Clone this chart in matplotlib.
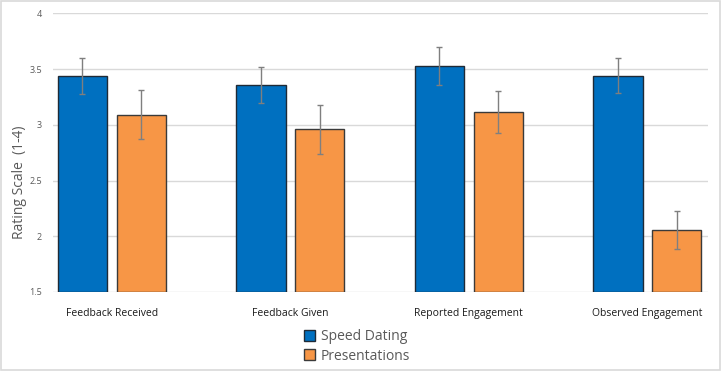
import numpy as np
import matplotlib.pyplot as plt
from matplotlib.patches import Rectangle

# Data
categories = ["Feedback Received", "Feedback Given", "Reported Engagement", "Observed Engagement"]
speed_dating = [3.44, 3.36, 3.53, 3.44]
speed_err = [0.16, 0.16, 0.17, 0.155]
presentations = [3.09, 2.96, 3.115, 2.06]
pres_err = [0.22, 0.22, 0.19, 0.17]
yticks = [1.5, 2, 2.5, 3, 3.5, 4]
ytick_labels = ["1.5", "2", "2.5", "3", "3.5", "4"]

plt.rcParams['font.family'] = ['Open Sans', 'DejaVu Sans']

fig = plt.figure(figsize=(7.21, 3.71), dpi=100)
ax = fig.add_axes([0.0735, 0.213, 0.9085, 0.751])

x = np.arange(len(categories))
w = 0.276
off = 0.165

ax.bar(x - off, np.array(speed_dating) - 1.5, w, bottom=1.5, color='#0070C0',
       edgecolor='#1f2a36', linewidth=1.0, label='Speed Dating', zorder=3)
ax.bar(x + off, np.array(presentations) - 1.5, w, bottom=1.5, color='#F79646',
       edgecolor='#3a3a3a', linewidth=1.0, label='Presentations', zorder=3)
ax.errorbar(x - off, speed_dating, yerr=speed_err, fmt='none', ecolor='#7f7f7f',
            elinewidth=1.0, capsize=2.5, capthick=1.0, zorder=4)
ax.errorbar(x + off, presentations, yerr=pres_err, fmt='none', ecolor='#7f7f7f',
            elinewidth=1.0, capsize=2.5, capthick=1.0, zorder=4)

ax.set_xlim(-0.33, 3.34)
ax.set_ylim(1.5, 4)
ax.set_yticks(yticks)
ax.set_yticklabels(ytick_labels, fontsize=6.5, color='#595959')
ax.set_xticks(x)
ax.set_xticklabels(categories, fontsize=7.5, color='#1a1a1a')
ax.tick_params(axis='both', length=0)
ax.tick_params(axis='x', pad=11.5)
ax.tick_params(axis='y', pad=8)

ax.grid(axis='y', color='#d9d9d9', linewidth=1.0, zorder=0)
for s in ax.spines.values():
    s.set_visible(False)

ax.set_ylabel("Rating Scale  (1-4)", fontsize=10, color='#595959')
ax.yaxis.set_label_coords(-0.039, 0.394)

fig.legend(loc='center', bbox_to_anchor=(0.495, 0.066), ncol=1, frameon=False,
           fontsize=10, labelcolor='#595959', handlelength=0.8, handleheight=0.8,
           handletextpad=0.4, labelspacing=0.3)

fig.patches.append(Rectangle((0.001, 0.002), 0.997, 0.995, transform=fig.transFigure,
                             fill=False, edgecolor='#d9d9d9', linewidth=1.2))

plt.savefig('out.png', dpi=100)
